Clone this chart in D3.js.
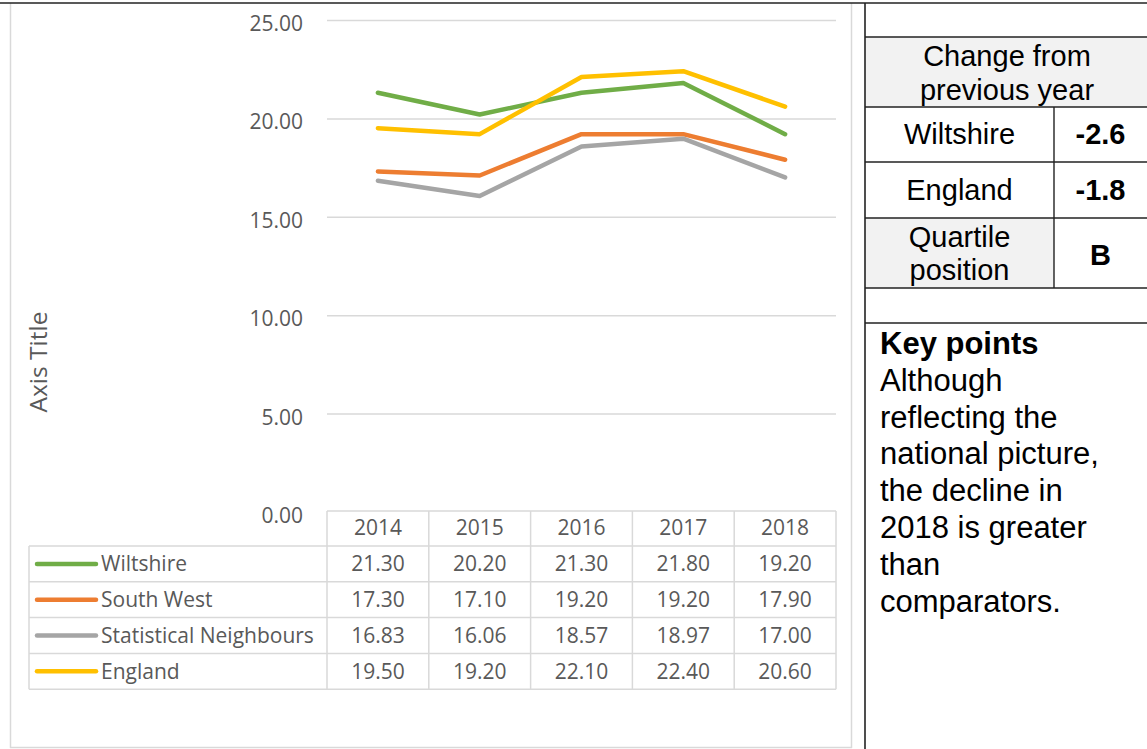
<!DOCTYPE html>
<html>
<head>
<meta charset="utf-8">
<script src="https://cdn.jsdelivr.net/npm/d3@7"></script>
<style>
  html, body { margin: 0; padding: 0; background: #fff; }
  svg { display: block; }
</style>
</head>
<body>
<svg id="chart" width="1147" height="749"></svg>
<script>
// ---------- DATA ----------
const years = ["2014", "2015", "2016", "2017", "2018"];
const seriesNames = ["Wiltshire", "South West", "Statistical Neighbours", "England"];
const wiltshire = [21.30, 20.20, 21.30, 21.80, 19.20];
const southWest = [17.30, 17.10, 19.20, 19.20, 17.90];
const statNeighbours = [16.83, 16.06, 18.57, 18.97, 17.00];
const england = [19.50, 19.20, 22.10, 22.40, 20.60];
const seriesColors = ["#70ad47", "#ed7d31", "#a5a5a5", "#ffc000"];
const yTicks = [0, 5, 10, 15, 20, 25];
const axisTitle = "Axis Title";

const changeHeader = ["Change from", "previous year"];
const changeRows = ["Wiltshire", "England"];
const changeValues = ["-2.6", "-1.8"];
const quartileLabel = ["Quartile", "position"];
const quartileValue = "B";
const keyTitle = "Key points";
const keyLines = ["Although", "reflecting the", "national picture,", "the decline in", "2018 is greater", "than", "comparators."];

const seriesValues = [wiltshire, southWest, statNeighbours, england];

// ---------- SETUP ----------
const svg = d3.select("#chart");
const leftFont = "'Open Sans', 'DejaVu Sans', sans-serif";
const rightFont = "'Liberation Sans', Arial, sans-serif";
const grey = "#595959";
const gridCol = "#d9d9d9";
const lblSize = "21px";

// outer chart frame (light grey)
svg.append("line").attr("x1", 10.5).attr("x2", 10.5).attr("y1", 3).attr("y2", 748).attr("stroke", gridCol).attr("stroke-width", 1.5);
svg.append("line").attr("x1", 851.5).attr("x2", 851.5).attr("y1", 3).attr("y2", 748).attr("stroke", gridCol).attr("stroke-width", 1.5);
svg.append("line").attr("x1", 10).attr("x2", 852).attr("y1", 747.5).attr("y2", 747.5).attr("stroke", gridCol).attr("stroke-width", 1.5);

// scales
const x = d3.scaleBand().domain(years).range([327, 836]);
const y = d3.scaleLinear().domain([0, 25]).range([512, 20]);
const cx = d => x(d) + x.bandwidth() / 2;

// gridlines
const grid = svg.append("g").attr("transform", "translate(327,0)")
  .call(d3.axisLeft(y).tickValues(yTicks.filter(t => t > 0)).tickSize(-(836 - 327)).tickFormat(""));
grid.select(".domain").remove();
grid.selectAll(".tick line").attr("stroke", gridCol).attr("stroke-width", 1.5);

// y axis labels
const yAxis = svg.append("g").attr("transform", "translate(327,0)")
  .call(d3.axisLeft(y).tickValues(yTicks).tickSize(0).tickPadding(24).tickFormat(d3.format(".2f")));
yAxis.select(".domain").remove();
yAxis.selectAll("text").attr("fill", grey).style("font-family", leftFont).style("font-size", lblSize)
  .attr("dy", "0.5em");

// axis title
svg.append("text")
  .attr("transform", "translate(47,362) rotate(-90)")
  .attr("text-anchor", "middle")
  .attr("fill", grey)
  .style("font-family", leftFont).style("font-size", "24.5px")
  .text(axisTitle);

// lines
const line = d3.line().x((d, i) => cx(years[i])).y(d => y(d));
svg.append("g").selectAll("path").data(seriesValues).join("path")
  .attr("d", d => line(d))
  .attr("fill", "none")
  .attr("stroke", (d, i) => seriesColors[i])
  .attr("stroke-width", 4.5)
  .attr("stroke-linecap", "round")
  .attr("stroke-linejoin", "round");

// ---------- DATA TABLE ----------
const headTop = 511, headBottom = 546, rowH = 35.8;
const rowY = i => headBottom + i * rowH;
const tableBottom = rowY(seriesNames.length);
const tbl = svg.append("g");
const colEdges = years.map(d => x(d)).concat([x.range()[1]]);
tbl.selectAll("line.v").data(colEdges).join("line")
  .attr("x1", d => d).attr("x2", d => d).attr("y1", headTop).attr("y2", tableBottom)
  .attr("stroke", gridCol).attr("stroke-width", 1.5);
tbl.append("line").attr("x1", 29).attr("x2", 29).attr("y1", headBottom).attr("y2", tableBottom).attr("stroke", gridCol).attr("stroke-width", 1.5);
tbl.append("line").attr("x1", 327).attr("x2", 836).attr("y1", headTop).attr("y2", headTop).attr("stroke", gridCol).attr("stroke-width", 1.5);
tbl.selectAll("line.h").data(d3.range(seriesNames.length + 1)).join("line")
  .attr("x1", 29).attr("x2", 836).attr("y1", i => rowY(i)).attr("y2", i => rowY(i))
  .attr("stroke", gridCol).attr("stroke-width", 1.5);

tbl.selectAll("text.yr").data(years).join("text")
  .attr("x", d => cx(d)).attr("y", (headTop + headBottom) / 2 - 1)
  .attr("dy", "0.36em").attr("text-anchor", "middle")
  .attr("fill", grey).style("font-family", leftFont).style("font-size", lblSize)
  .text(d => d);

seriesNames.forEach((name, i) => {
  const yc = rowY(i) + rowH / 2;
  tbl.append("line").attr("x1", 37).attr("x2", 96).attr("y1", yc).attr("y2", yc)
    .attr("stroke", seriesColors[i]).attr("stroke-width", 4.5).attr("stroke-linecap", "round");
  tbl.append("text").attr("x", 101).attr("y", yc).attr("dy", "0.36em")
    .attr("fill", grey).style("font-family", leftFont).style("font-size", lblSize)
    .text(name);
  tbl.selectAll(null).data(seriesValues[i]).join("text")
    .attr("x", (d, j) => cx(years[j])).attr("y", yc).attr("dy", "0.36em")
    .attr("text-anchor", "middle")
    .attr("fill", grey).style("font-family", leftFont).style("font-size", lblSize)
    .text(d => d3.format(".2f")(d));
});

// ---------- RIGHT PANEL ----------
const dark = "#222";
const rp = svg.append("g");
const rL = 865, rR = 1147, rMid = 1054;
rp.append("rect").attr("x", rL).attr("y", 37).attr("width", rR - rL).attr("height", 107 - 37).attr("fill", "#f2f2f2");
rp.append("rect").attr("x", rL).attr("y", 218).attr("width", rMid - rL).attr("height", 288 - 218).attr("fill", "#f2f2f2");
rp.append("line").attr("x1", 0).attr("x2", 1147).attr("y1", 3).attr("y2", 3).attr("stroke", dark).attr("stroke-width", 1.6);
rp.append("line").attr("x1", rL).attr("x2", rL).attr("y1", 3).attr("y2", 749).attr("stroke", dark).attr("stroke-width", 1.6);
[37, 107, 162, 218, 288, 323].forEach(yy => {
  rp.append("line").attr("x1", rL).attr("x2", rR).attr("y1", yy).attr("y2", yy).attr("stroke", dark).attr("stroke-width", 1.4);
});
rp.append("line").attr("x1", rMid).attr("x2", rMid).attr("y1", 107).attr("y2", 288).attr("stroke", dark).attr("stroke-width", 1.4);

const rText = (t, xx, yy, opts = {}) => rp.append("text")
  .attr("x", xx).attr("y", yy).attr("dy", "0.35em")
  .attr("text-anchor", opts.anchor || "middle")
  .attr("fill", "#000")
  .style("font-family", rightFont)
  .style("font-size", (opts.size || 29) + "px")
  .style("font-weight", opts.bold ? "bold" : "normal")
  .text(t);

rText(changeHeader[0], (rL + rR) / 2 + 1, 56);
rText(changeHeader[1], (rL + rR) / 2 + 1, 90);
changeRows.forEach((r, i) => {
  const yy = i === 0 ? 134 : 190;
  rText(r, (rL + rMid) / 2, yy);
  rText(changeValues[i], (rMid + rR) / 2, yy, { bold: true });
});
rText(quartileLabel[0], (rL + rMid) / 2, 237);
rText(quartileLabel[1], (rL + rMid) / 2, 270);
rText(quartileValue, (rMid + rR) / 2, 255, { bold: true });

rText(keyTitle, 880, 343, { anchor: "start", bold: true, size: 31 });
keyLines.forEach((t, i) => rText(t, 880, 380 + i * 36.8, { anchor: "start", size: 31 }));
</script>
</body>
</html>
